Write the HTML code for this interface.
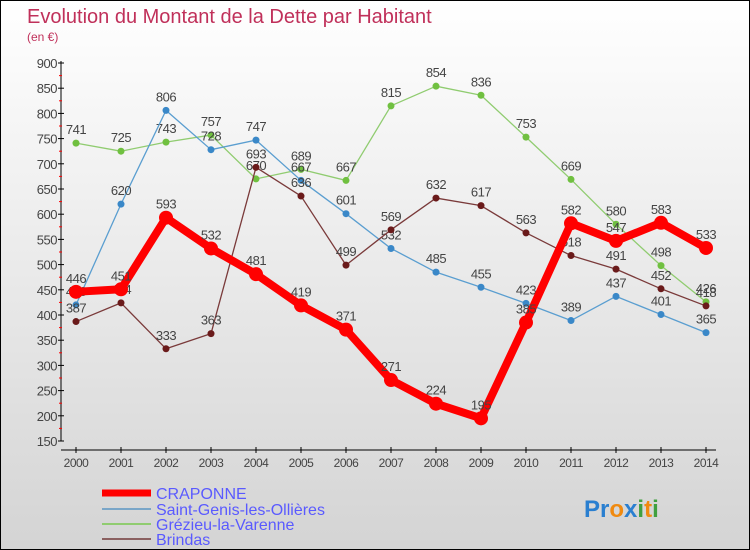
<!DOCTYPE html>
<html><head><meta charset="utf-8"><style>
body{margin:0}
#c{width:748px;height:548px;border:1px solid #000;background:linear-gradient(#ffffff,#d4d4d4);position:relative;overflow:hidden;font-family:"Liberation Sans",sans-serif}
</style></head><body>
<div id="c">
<svg id="s" width="748" height="548" xmlns="http://www.w3.org/2000/svg">
<text x="26" y="22" font-size="20" fill="#c0305a">Evolution du Montant de la Dette par Habitant</text>
<text x="26" y="40" font-size="12" fill="#c0305a">(en €)</text>
<line x1="60" y1="60" x2="60" y2="440" stroke="#000"/>
<line x1="60" y1="449" x2="715" y2="449" stroke="#000"/>
<g id="ax"></g><g id="series"></g>
<g>
<line x1="101" y1="492" x2="150" y2="492" stroke="#f00" stroke-width="7"/>
<text x="155" y="498" font-size="16" fill="#5a5aff">CRAPONNE</text>
<line x1="101" y1="508" x2="150" y2="508" stroke="#7aa6c8" stroke-width="2"/>
<text x="155" y="514" font-size="16" fill="#5a5aff">Saint-Genis-les-Ollières</text>
<line x1="101" y1="523" x2="150" y2="523" stroke="#90cc70" stroke-width="2"/>
<text x="155" y="529" font-size="16" fill="#5a5aff">Grézieu-la-Varenne</text>
<line x1="101" y1="538" x2="150" y2="538" stroke="#8a6060" stroke-width="2"/>
<text x="155" y="544" font-size="16" fill="#5a5aff">Brindas</text>
</g>
<text x="583" y="516" font-size="24" font-weight="bold"><tspan fill="#2a7fd0">Pr</tspan><tspan fill="#f08a10">o</tspan><tspan fill="#2a7fd0">x</tspan><tspan fill="#40a040">i</tspan><tspan fill="#f08a10">t</tspan><tspan fill="#40a040">i</tspan></text>
</svg></div>
<script>
const years=[2000,2001,2002,2003,2004,2005,2006,2007,2008,2009,2010,2011,2012,2013,2014];
const yTicks=[150,200,250,300,350,400,450,500,550,600,650,700,750,800,850,900];
const craponne=[446,451,593,532,481,419,371,271,224,195,385,582,547,583,533];
const saintGenis=[420,620,806,728,747,667,601,532,485,455,423,389,437,401,365];
const grezieu=[741,725,743,757,670,689,667,815,854,836,753,669,580,498,426];
const brindas=[387,424,333,363,693,636,499,569,632,617,563,518,491,452,418];
const NS="http://www.w3.org/2000/svg";
const X=i=>75+i*45, Y=v=>440-(v-150)*0.504;
function el(t,a,p){const e=document.createElementNS(NS,t);for(const k in a)e.setAttribute(k,a[k]);p.appendChild(e);return e;}
const ax=document.getElementById('ax');
yTicks.forEach(v=>{
 const t=el('text',{x:56,y:Y(v)+5,'font-size':13,fill:'#444','text-anchor':'end','letter-spacing':'-0.5'},ax);t.textContent=v;
 
 
 el('line',{x1:57,y1:Y(v),x2:63,y2:Y(v),stroke:'#000'},ax);
 if(v<900) el('line',{x1:58,y1:Y(v+25),x2:61,y2:Y(v+25),stroke:'#f00'},ax);
});
years.forEach((yr,i)=>{
 el('line',{x1:X(i),y1:446,x2:X(i),y2:452,stroke:'#000'},ax);
 const t=el('text',{x:X(i),y:466,'font-size':12,fill:'#444','text-anchor':'middle','letter-spacing':'-0.5'},ax);t.textContent=yr;
 
 
});
const sg=document.getElementById('series');
function draw(data,color,w,r,dot,name){
 const g=el('g',{},sg);
 
 
 el('polyline',{points:data.map((v,i)=>X(i)+','+Y(v)).join(' '),fill:'none',stroke:color,'stroke-width':w,'stroke-linejoin':'round'},g);
 data.forEach((v,i)=>{
  const c=el('circle',{cx:X(i),cy:Y(v),r:r,fill:dot},g);
  
  
  const t=el('text',{x:X(i),y:Y(v)-9,'font-size':13,fill:'#444','text-anchor':'middle','letter-spacing':'-0.5'},g);t.textContent=v;
  
  
 });
}
draw(grezieu,'#90cc70',1.3,3.5,'#70c040','grezieu-series');
draw(saintGenis,'#5a9ed0',1.3,3.5,'#3a88c8','saint-genis-series');
draw(brindas,'#7a3a3a',1.3,3.5,'#6a1a1a','brindas-series');
draw(craponne,'#f00',8,7,'#f00','craponne-series');
</script>
</body></html>
